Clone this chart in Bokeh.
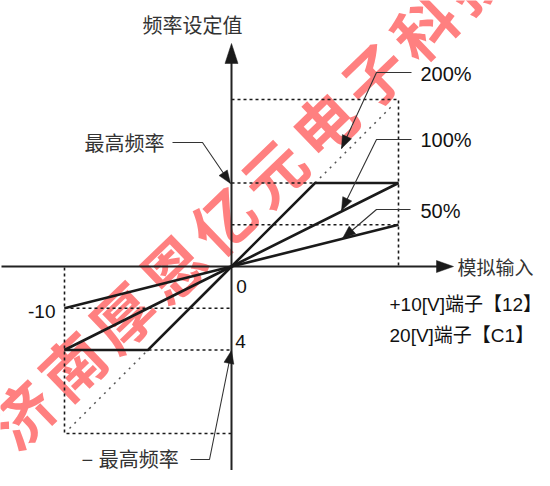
import math
from bokeh.plotting import figure
from bokeh.models import Range1d, Label
from bokeh.embed import file_html
from bokeh.resources import INLINE
from bokeh.core.properties import value

# ---------------- data (input volts, output in units of max frequency) ----------------
v_200 = [-10, -5, 0, 5, 10]
f_200 = [-1, -1, 0, 1, 1]            # 200% gain, clipped at max frequency
v_100 = [-10, 0, 10]
f_100 = [-1, 0, 1]                   # 100% gain
v_50 = [-10, 0, 10]
f_50 = [-0.5, 0, 0.5]                # 50% gain
v_200_pos = [5, 9.7]                 # 200% unclipped continuation (dotted)
f_200_pos = [1, 1.94]
v_200_neg = [-9.7, -5]
f_200_neg = [-1.94, -1]

guide_pos_v = [0, 10, 10]            # dashed frame, positive side
guide_pos_f = [2, 2, 0]
guide_neg_v = [0, -10, -10]          # dashed frame, negative side
guide_neg_f = [-2, -2, 0]
guide_h_f_pos = [1, 0.5]
guide_h_f_neg = [-1, -0.5]

gain_labels = ["200%", "100%", "50%"]
tick_labels = ["0", "-10", "4"]
y_title = "频率设定值"
x_title = "模拟输入"
fmax_label = "最高频率"
fmin_label = "− 最高频率"
terminal_labels = ["+10[V]端子【12】", "20[V]端子【C1】"]
watermark = "济南厚恩亿元电子科技"

# ---------------- layout helpers (picture pixels -> data) ----------------
X0, Y0 = 231.0, 266.0       # origin in picture pixels
PXV, PXF = 16.7, 83.5       # px per volt, px per unit frequency
W, H = 534, 470


def dx(px):
    return (px - X0) / PXV


def dy(py):
    return (Y0 - py) / PXF


p = figure(width=W, height=H, output_backend="svg", toolbar_location=None,
           x_range=Range1d(dx(0), dx(W)), y_range=Range1d(dy(H), dy(0)),
           min_border=0, tools="")
p.axis.visible = False
p.grid.visible = False
p.outline_line_color = None
p.background_fill_color = "white"
p.border_fill_color = "white"

CJK = "Noto Sans CJK SC"
LAT = "'Liberation Sans', 'Noto Sans CJK SC'"

# ---------------- watermark ----------------
ang = math.radians(43.9)
wx, wy = [], []
for i, ch in enumerate(watermark):
    wx.append(dx(20 + 50.25 * i))
    wy.append(dy(412 - 48.4 * i))
p.text(x=wx, y=wy, text=list(watermark), angle=ang, text_align="center",
       text_baseline="middle", text_font=value(CJK), text_font_size="62px",
       text_font_style="bold", text_color="#ff8080")

# ---------------- dashed guides ----------------
DASH = dict(line_color="#1a1a1a", line_width=1.6, line_dash="3 3")
p.line(guide_pos_v, guide_pos_f, **DASH)
p.line(guide_neg_v, guide_neg_f, **DASH)
for f in guide_h_f_pos:
    p.line([0, 10], [f, f], **DASH)
for f in guide_h_f_neg:
    p.line([-10, 0], [f, f], **DASH)

# dotted unclipped 200%
DOT = dict(line_color="#555555", line_width=1.5, line_dash="2 5")
p.line(v_200_pos, f_200_pos, **DOT)
p.line(v_200_neg, f_200_neg, **DOT)

# ---------------- axes ----------------
AX = dict(line_color="#222222", line_width=2)
p.line([dx(1), dx(438)], [0, 0], **AX)
p.line([0, 0], [dy(490), dy(60)], **AX)


def arrow_head(tip, frm, length, width, color="#1a1a1a"):
    ux, uy = tip[0] - frm[0], tip[1] - frm[1]
    n = math.hypot(ux, uy)
    ux, uy = ux / n, uy / n
    bx, by = tip[0] - ux * length, tip[1] - uy * length
    nx, ny = -uy, ux
    xs = [tip[0], bx + nx * width / 2, bx - nx * width / 2]
    ys = [tip[1], by + ny * width / 2, by - ny * width / 2]
    p.patch([dx(x) for x in xs], [dy(y) for y in ys], fill_color=color,
            line_color=color, line_width=0.5)


arrow_head((453, 266), (400, 266), 17, 12)
arrow_head((231, 43), (231, 100), 20, 13)

# ---------------- main characteristic lines ----------------
MAIN = dict(line_color="#1a1a1a", line_width=2.6, line_join="miter")
p.line(v_200, f_200, **MAIN)
p.line(v_100, f_100, **MAIN)
p.line(v_50, f_50, **MAIN)

# ---------------- leader lines ----------------
LEAD = dict(line_color="#333333", line_width=1.1)
leaders = [
    [(411, 72), (376, 72), (341, 148)],
    [(411, 139), (376, 139), (341, 210)],
    [(410, 209), (376, 209), (342, 238)],
    [(172, 142), (202, 142), (230, 183)],
    [(190, 459), (209, 459), (231, 350)],
]
for pts in leaders:
    p.line([dx(a) for a, b in pts], [dy(b) for a, b in pts], **LEAD)
    arrow_head(pts[-1], pts[-2], 13, 10)

# ---------------- texts ----------------


def label(px, py, txt, font, size, align="left", color="#111111"):
    p.add_layout(Label(x=dx(px), y=dy(py), text=txt, text_font=font,
                       text_font_size=size, text_align=align,
                       text_baseline="middle", text_color=color))


label(192, 24, y_title, CJK, "20px", "center", "#333333")
label(457, 266, x_title, CJK, "19px", "left", "#333333")
label(164, 142, fmax_label, CJK, "20px", "right", "#333333")
label(81, 459, fmin_label, LAT, "20px", "left", "#333333")
for txt, yy in zip(gain_labels, [73, 139, 210]):
    label(420, yy, txt, LAT, "20px", "left")
label(241, 286, tick_labels[0], LAT, "19px", "center")
label(55, 311, tick_labels[1], LAT, "19px", "right")
label(240, 341, tick_labels[2], LAT, "19px", "center")
label(389, 304, terminal_labels[0], LAT, "19px", "left")
label(389, 335, terminal_labels[1], LAT, "19px", "left")

open("out.html", "w").write(file_html(p, INLINE))
